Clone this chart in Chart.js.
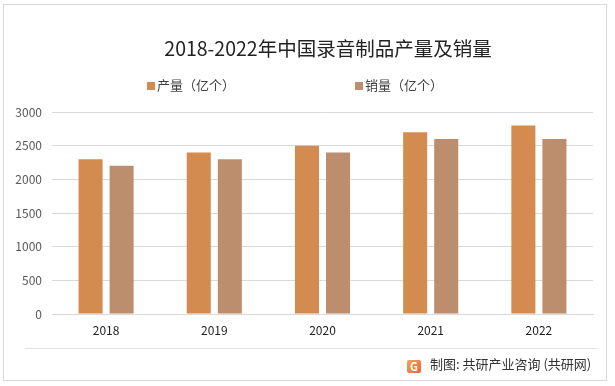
<!DOCTYPE html>
<html>
<head>
<meta charset="utf-8">
<script src="https://cdn.jsdelivr.net/npm/chart.js@4.4.0/dist/chart.umd.min.js"></script>
<style>
  html, body { margin: 0; padding: 0; background: #fff; }
  #wrap { position: relative; width: 615px; height: 386px; overflow: hidden; font-family: "Noto Sans CJK SC", "Noto Sans", sans-serif; }
  #frame { position: absolute; left: 3px; top: 4px; width: 604px; height: 377px; border: 1px solid #d9d9d9; box-sizing: border-box; }
  #sep { position: absolute; left: 25px; top: 348px; width: 572px; height: 1px; background: #e3e3e3; }
  #title { position: absolute; left: 128px; width: 400px; top: 34px; text-align: center; font-size: 19.5px; line-height: 28px; color: #222; white-space: nowrap; }
  #legend { position: absolute; top: 75px; left: 0; width: 615px; height: 20px; font-size: 13px; color: #404040; }
  .lg { position: absolute; top: 0; line-height: 20px; white-space: nowrap; }
  .lg i { display: inline-block; width: 8px; height: 8px; margin-right: 2px; vertical-align: 0px; }
  #foot { position: absolute; left: 407px; top: 355px; font-size: 13px; color: #333; line-height: 18px; white-space: nowrap; }
  #logo { display: inline-block; width: 14px; height: 13px; border-radius: 2px; background: linear-gradient(135deg, #f5a35c, #e8663a); color: #fff; font-size: 11px; font-weight: bold; text-align: center; line-height: 13px; margin-right: 9px; vertical-align: -2px; }
  canvas { position: absolute; left: 0; top: 0; }
</style>
</head>
<body>
<div id="wrap">
  <canvas id="chart" width="615" height="386"></canvas>
  <div id="frame"></div>
  <div id="sep"></div>
  <div id="title">2018-2022年中国录音制品产量及销量</div>
  <div id="legend"></div>
  <div id="foot"><span id="logo">G</span>制图: 共研产业咨询 (共研网)</div>
</div>
<script>
const years = ["2018", "2019", "2020", "2021", "2022"];
const seriesNames = ["产量（亿个）", "销量（亿个）"];
const production = [2300, 2400, 2500, 2700, 2800];
const sales = [2200, 2300, 2400, 2600, 2600];
const yTicks = [0, 500, 1000, 1500, 2000, 2500, 3000];
const colors = ["#d38b4f", "#bc8e6e"];

// legend (Excel style, wide spacing)
const legendX = [147, 355];
const legendBox = document.getElementById("legend");
seriesNames.forEach((name, i) => {
    let item = document.createElement("div");
    item.className = "lg";
    item.style.left = legendX[i] + "px";
    item.innerHTML = `<i style="background:${colors[i]}"></i>${name}`;
    legendBox.appendChild(item);
});

const ctx = document.getElementById("chart").getContext("2d");
new Chart(ctx, {
    type: 'bar',
    data: {
        labels: years,
        datasets: [
            { label: seriesNames[0], data: production, backgroundColor: colors[0] },
            { label: seriesNames[1], data: sales, backgroundColor: colors[1] }
        ]
    },
    options: {
        responsive: false,
        animation: false,
        layout: { padding: { left: 0, right: 22, top: 112, bottom: 0 } },
        datasets: { bar: { categoryPercentage: 0.574, barPercentage: 0.774 } },
        plugins: {
            legend: { display: false },
            tooltip: { enabled: false },
            title: { display: false }
        },
        scales: {
            x: {
                grid: { display: false, drawTicks: false },
                border: { display: true, color: '#d9d9d9' },
                ticks: { color: '#222', font: { family: '"Noto Sans CJK SC"', size: 12 }, padding: 9 },
                afterFit: s => { s.height = 72; }
            },
            y: {
                min: 0, max: 3000,
                afterBuildTicks: s => { s.ticks = yTicks.map(v => ({ value: v })); },
                grid: { color: '#d9d9d9', drawTicks: false },
                border: { display: false },
                ticks: {
                    color: '#595959',
                    font: { family: '"Noto Sans CJK SC"', size: 12 },
                    padding: 10,
                    callback: v => String(v)
                },
                afterFit: s => { s.width = 52; }
            }
        }
    }
});
</script>
</body>
</html>
